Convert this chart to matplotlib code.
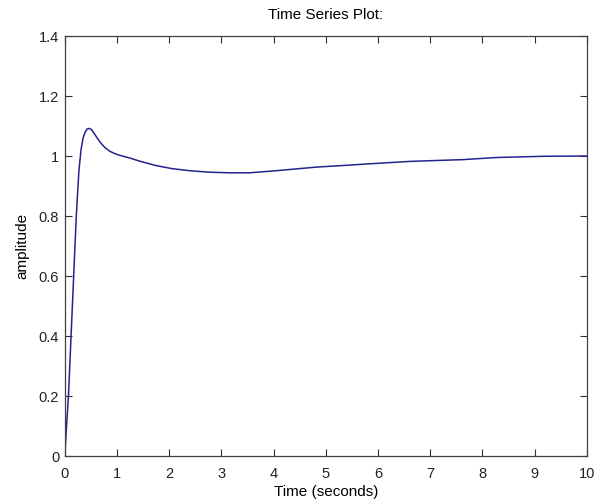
import numpy as np
from matplotlib import pyplot as plt

# step response
t = [0.0, 0.03, 0.07, 0.12, 0.17, 0.22, 0.27, 0.31, 0.35, 0.39, 0.43, 0.47, 0.51,
     0.56, 0.62, 0.69, 0.77, 0.86, 0.97, 1.1, 1.25, 1.45, 1.75, 2.05, 2.39, 2.77,
     3.15, 3.54, 4.05, 4.82, 5.3, 5.84, 6.61, 7.63, 8.27, 9.16, 10.0]
amp = [0.0, 0.09, 0.2, 0.4, 0.6, 0.8, 0.95, 1.02, 1.06, 1.08, 1.09, 1.092, 1.088,
       1.076, 1.06, 1.043, 1.028, 1.016, 1.007, 1.0, 0.993, 0.982, 0.968, 0.958,
       0.951, 0.946, 0.944, 0.944, 0.951, 0.963, 0.968, 0.974, 0.982, 0.988, 0.995,
       0.999, 1.0]

xticks = list(range(0, 11))
yticks = [0, 0.2, 0.4, 0.6, 0.8, 1.0, 1.2, 1.4]
ylabels = ['0', '0.2', '0.4', '0.6', '0.8', '1', '1.2', '1.4']

plt.rcParams['font.family'] = ['Liberation Sans', 'DejaVu Sans']
plt.rcParams['font.size'] = 10.5

fig = plt.figure(figsize=(6, 5), dpi=100)
ax = fig.add_axes([0.108, 0.088, 0.87, 0.84])
ax.plot(t, amp, color='#23238f', linewidth=1.1)

ax.set_xlim(0, 10)
ax.set_ylim(0, 1.4)
ax.set_xticks(xticks)
ax.set_yticks(yticks)
ax.set_yticklabels(ylabels)
ax.tick_params(direction='in', length=5, width=0.8, top=True, right=True,
               colors='#303030', labelcolor='#222222')
ax.tick_params(axis='x', pad=8)
ax.tick_params(axis='y', pad=4)
for s in ax.spines.values():
    s.set_color('#404040')
    s.set_linewidth(0.9)

ax.set_title('Time Series Plot:', fontsize=11, pad=12)
ax.set_xlabel('Time (seconds)', fontsize=11, labelpad=3)
ax.set_ylabel('amplitude', fontsize=11, labelpad=7)

fig.savefig('out.png', dpi=100)
